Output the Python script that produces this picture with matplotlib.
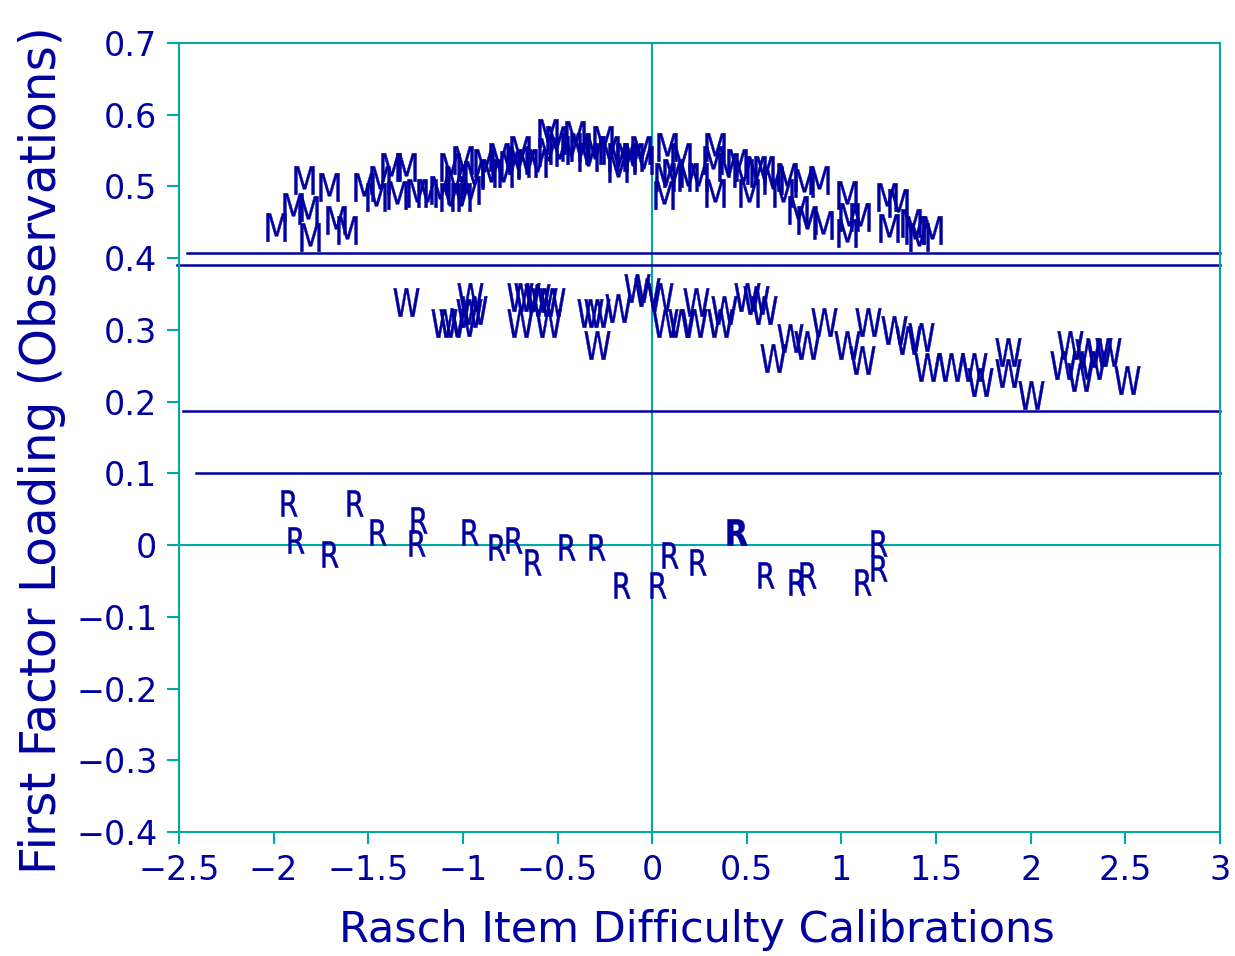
import matplotlib
matplotlib.use("Agg")
import matplotlib.pyplot as plt
from matplotlib.textpath import TextPath
from matplotlib.font_manager import FontProperties
from matplotlib.transforms import Affine2D

# ---------- data ----------
m_x = [-1.99, -1.90, -1.84, -1.81, -1.82, -1.71, -1.67, -1.61, -1.52, -1.46,
       -1.38, -1.35, -1.30, -1.24, -1.19, -1.12, -1.07, -1.01, -1.07, -1.00,
       -0.89, -0.85, -0.81, -0.79, -0.71, -0.66, -0.61, -0.55, -0.55, -0.49,
       -0.43, -0.38, -0.34, -0.26, -0.23, -0.18, -0.18, -0.14, -0.10, -0.06,
       -0.05, 0.06, 0.08, 0.11, 0.15, 0.19, 0.24, 0.33, 0.33, 0.32,
       0.40, 0.45, 0.51, 0.48, 0.55, 0.59, 0.64, 0.69, 0.71, 0.77,
       0.80, 0.82, 0.88, 0.90, 1.03, 1.04, 1.03, 1.10, 1.24, 1.25,
       1.30, 1.39, 1.41, 1.48, 1.37, 0.07, -0.51, -0.41, -0.30, -0.70,
       -0.75, -0.94, -0.96, -1.04, -1.44]
m_y = [0.444, 0.471, 0.509, 0.430, 0.467, 0.499, 0.453, 0.439, 0.499, 0.485,
       0.527, 0.488, 0.527, 0.491, 0.491, 0.495, 0.485, 0.485, 0.527, 0.537,
       0.533, 0.519, 0.541, 0.519, 0.537, 0.533, 0.533, 0.575, 0.548, 0.551,
       0.555, 0.555, 0.541, 0.565, 0.551, 0.541, 0.526, 0.541, 0.541, 0.551,
       0.537, 0.488, 0.555, 0.519, 0.541, 0.513, 0.513, 0.491, 0.555, 0.537,
       0.527, 0.533, 0.491, 0.519, 0.523, 0.523, 0.509, 0.491, 0.513, 0.467,
       0.505, 0.453, 0.509, 0.446, 0.488, 0.457, 0.435, 0.457, 0.485, 0.442,
       0.477, 0.439, 0.430, 0.439, 0.449, 0.513, 0.565, 0.572, 0.551, 0.551,
       0.530, 0.516, 0.495, 0.509, 0.509]

w_x = [-1.30, -1.10, -1.06, -1.00, -0.96, -0.94, -0.97, -0.70, -0.66, -0.61,
       -0.57, -0.53, -0.70, -0.55, -0.33, -0.29, -0.18, -0.29, -0.08, -0.03,
       0.04, 0.07, 0.15, 0.23, 0.22, 0.36, 0.38, 0.50, 0.55, 0.59,
       0.64, 0.73, 0.82, 0.91, 1.03, 1.11, 1.14, 1.28, 1.35, 1.42,
       1.45, 1.58, 1.70, 1.73, 1.88, 1.88, 2.00, 2.17, 2.21, 2.26,
       2.30, 2.36, 2.41, 2.33, 2.51]
w_y = [0.339, 0.310, 0.310, 0.311, 0.346, 0.328, 0.324, 0.346, 0.346, 0.344,
       0.339, 0.339, 0.310, 0.310, 0.324, 0.324, 0.331, 0.279, 0.358, 0.353,
       0.346, 0.310, 0.310, 0.339, 0.310, 0.310, 0.328, 0.346, 0.342, 0.328,
       0.261, 0.289, 0.279, 0.311, 0.279, 0.258, 0.311, 0.300, 0.286, 0.290,
       0.248, 0.248, 0.248, 0.227, 0.269, 0.240, 0.209, 0.251, 0.279, 0.234,
       0.268, 0.269, 0.269, 0.251, 0.230]

r_x = [-1.92, -1.88, -1.70, -1.57, -1.45, -1.23, -1.24, -0.96, -0.82, -0.73,
       -0.63, -0.45, -0.29, -0.16, 0.03, 0.095, 0.243, 0.60, 0.765, 0.825,
       1.115, 1.20, 1.20]
r_y = [0.059, 0.007, -0.013, 0.058, 0.018, 0.035, 0.003, 0.018, -0.003, 0.007,
       -0.024, -0.003, -0.003, -0.056, -0.056, -0.014, -0.024, -0.042, -0.052, -0.042,
       -0.052, 0.003, -0.032]
r_bold_x = [0.45]
r_bold_y = [0.018]

# horizontal reference lines: level, start x
hline_y = [0.407, 0.391, 0.187, 0.100]
hline_start = [-2.46, -2.51, -2.48, -2.41]

x_ticks = [-2.5, -2, -1.5, -1, -0.5, 0, 0.5, 1, 1.5, 2, 2.5, 3]
y_ticks = [-0.4, -0.3, -0.2, -0.1, 0, 0.1, 0.2, 0.3, 0.4, 0.5, 0.6, 0.7]

navy = '#0000A0'
teal = '#00A8A8'


def letter_marker(ch, bold=False, stretch=1.3):
    # glyph outline centred on (0, 0) and stretched vertically like the plotter font
    prop = FontProperties(family='DejaVu Sans', weight='bold' if bold else 'normal')
    tp = TextPath((0, 0), ch, size=1, prop=prop)
    ext = tp.get_extents()
    cx, cy = (ext.x0 + ext.x1) / 2, (ext.y0 + ext.y1) / 2
    return tp.transformed(Affine2D().translate(-cx, -cy).scale(1, stretch))


fig = plt.figure(figsize=(12.35, 9.56), dpi=100)
ax = fig.add_axes([179/1235, 1-832/956, (1220-179)/1235, (832-43)/956])
ax.set_xlim(-2.5, 3)
ax.set_ylim(-0.4, 0.7)

for s in ax.spines.values():
    s.set_color(teal)
    s.set_linewidth(1.5)
ax.axhline(0, color=teal, lw=1.5, zorder=1)
ax.axvline(0, color=teal, lw=1.5, zorder=1)

for yv, xs in zip(hline_y, hline_start):
    ax.plot([xs, 3], [yv, yv], color=navy, lw=1.8, clip_on=False)

mk = dict(ls='none', mfc=navy, mec=navy, mew=0.3, zorder=3)
ax.plot(m_x, m_y, marker=letter_marker('M'), ms=20.5, **mk)
ax.plot(w_x, w_y, marker=letter_marker('W', stretch=1.4), ms=20.5, **mk)
ax.plot(r_x, r_y, marker=letter_marker('R', stretch=1.3), ms=19, **mk)
ax.plot(r_bold_x, r_bold_y, marker=letter_marker('R', bold=True, stretch=1.2),
        ms=19, **mk)

ax.set_xticks(x_ticks)
ax.set_xticklabels([f'{v:g}'.replace('-', '\u2212') for v in x_ticks])
ax.set_yticks(y_ticks)
ax.set_yticklabels([f'{v:g}'.replace('-', '\u2212') for v in y_ticks])
ax.tick_params(colors=teal, labelcolor=navy, labelsize=24, length=8.5,
               width=1.5, direction='out', pad=7)

fig.text(697/1235, 1-942/956, 'Rasch Item Difficulty Calibrations',
         color=navy, fontsize=31, ha='center', va='baseline')
fig.text(42/1235, 1-450/956, 'First Factor Loading (Observations)',
         color=navy, fontsize=35, ha='center', va='center', rotation=90)

fig.savefig('out.png', dpi=100)
